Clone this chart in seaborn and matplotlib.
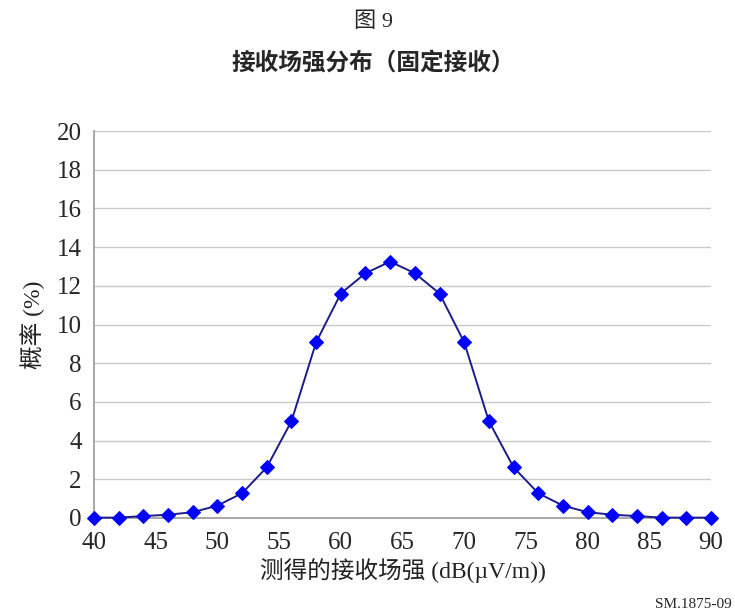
import numpy as np
import pandas as pd
import matplotlib
matplotlib.use('Agg')
import matplotlib.pyplot as plt
import seaborn as sns

# measured field strength (dB(uV/m)) and probability (%)
field_db = [40, 42, 44, 46, 48, 50, 52, 54, 56, 58, 60, 62, 64,
            66, 68, 70, 72, 74, 76, 78, 80, 82, 84, 86, 88, 90]
prob_pct = [0.02, 0.02, 0.1, 0.17, 0.3, 0.64, 1.28, 2.62, 5.0, 9.08, 11.6, 12.65, 13.25,
            12.65, 11.6, 9.08, 5.0, 2.62, 1.28, 0.64, 0.3, 0.17, 0.1, 0.02, 0.02, 0.02]
x_ticks = [40, 45, 50, 55, 60, 65, 70, 75, 80, 85, 90]
y_ticks = [0, 2, 4, 6, 8, 10, 12, 14, 16, 18, 20]

df = pd.DataFrame({'field': field_db, 'prob': prob_pct})

sns.set_style("white")
fonts = ['Liberation Serif', 'Noto Sans CJK SC', 'DejaVu Sans']
plt.rcParams['font.family'] = fonts

fig = plt.figure(figsize=(7.35, 6.13), dpi=100)
ax = fig.add_axes([94/735, 1 - 518/613, (711-94)/735, (518-131)/613])

sns.lineplot(data=df, x='field', y='prob', ax=ax, color='#1c1c8a', linewidth=1.4,
             marker='D', markersize=7.5, markerfacecolor='#0000ff', markeredgecolor='#0000ff',
             clip_on=False, zorder=3)

ax.set_xlim(40, 90)
ax.set_ylim(0, 20)
ax.set_xticks(x_ticks)
ax.set_yticks(y_ticks)
ax.yaxis.grid(True, color='#c8c8c8', linewidth=1)
ax.set_axisbelow(True)
ax.tick_params(axis='both', labelsize=18, length=6, width=1, color='#999999',
               direction='out', pad=3)
ax.tick_params(axis='x', pad=4)
for s in ['top', 'right']:
    ax.spines[s].set_visible(False)
for s in ['left', 'bottom']:
    ax.spines[s].set_color('#999999')
    ax.spines[s].set_linewidth(1.2)

ax.set_xlabel('测得的接收场强 (dB(µV/m))', fontsize=17, labelpad=3, color='#222222')
ax.set_ylabel('概率 (%)', fontsize=17, labelpad=8, color='#222222')

fig.text(0.508, 1 - 22/613, '图 9', ha='center', va='center', fontsize=16)
fig.text(0.508, 1 - 63/613, '接收场强分布（固定接收）', ha='center', va='center',
         fontsize=17, fontweight='bold')
fig.text(0.995, 1 - 604/613, 'SM.1875-09', ha='right', va='center', fontsize=11)

plt.savefig('out.png', dpi=100)
